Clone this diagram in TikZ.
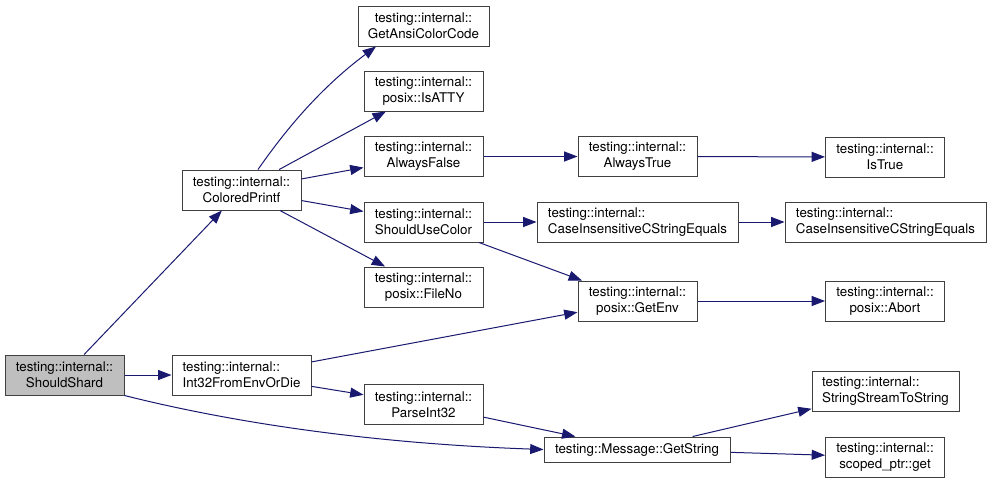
\documentclass[tikz,border=0pt]{standalone}
\usepackage{fontspec}
\setmainfont{TeX Gyre Heros}
\usepackage{xcolor}
\usetikzlibrary{arrows.meta,calc}
\definecolor{callblue}{HTML}{191970}
\definecolor{framegray}{HTML}{404040}
\newdimen\px \px=0.75pt

\begin{document}
\begin{tikzpicture}[x=0.75pt,y=-0.75pt,font=\fontsize{10}{12}\selectfont,
  >={Triangle[length=10pt,width=7.5pt]},
  fn/.style={draw=framegray,line width=0.75pt,inner sep=0pt,minimum width=119\px,minimum height=40\px,align=center},
  fnl/.style={fn,align=left},
  call/.style={->,draw=callblue,fill=none,line width=0.75pt}]
  \useasboundingbox (0,0) rectangle (991,483);
  % column 1 and 2
  \node[fn,fill=black!25] (ss) at (64.5,375) {testing::internal::\\ShouldShard};
  \node[fn] (cp) at (241.5,190) {testing::internal::\\ColoredPrintf};
  \node[fnl,minimum width=139\px] (i32) at (241.5,375) {testing::internal::\\Int32FromEnvOrDie};
  % column 3
  \node[fn,minimum width=131\px] (gacc) at (423.5,26) {testing::internal::\\GetAnsiColorCode};
  \node[fn] (atty) at (423.5,91) {testing::internal::\\posix::IsATTY};
  \node[fn] (afalse) at (423.5,156.5) {testing::internal::\\AlwaysFalse};
  \node[fn] (suc) at (423.5,222) {testing::internal::\\ShouldUseColor};
  \node[fn] (fileno) at (423.5,287) {testing::internal::\\posix::FileNo};
  \node[fn] (parse) at (423.5,404.5) {testing::internal::\\ParseInt32};
  % column 4
  \node[fn] (atrue) at (637.5,156.5) {testing::internal::\\AlwaysTrue};
  \node[fnl,minimum width=201\px] (cisa) at (637.5,222) {testing::internal::\\CaseInsensitiveCStringEquals};
  \node[fn] (getenv) at (637.5,301) {testing::internal::\\posix::GetEnv};
  \node[fn,minimum width=186\px,minimum height=25\px] (getstr) at (637,449.5) {testing::Message::GetString};
  % column 5
  \node[fn] (istrue) at (885,157) {testing::internal::\\IsTrue};
  \node[fnl,minimum width=201\px] (cisb) at (885.5,222) {testing::internal::\\CaseInsensitiveCStringEquals};
  \node[fn] (abort) at (885,301) {testing::internal::\\posix::Abort};
  \node[fnl,minimum width=147\px] (sstr) at (885.5,391.5) {testing::internal::\\StringStreamToString};
  \node[fn] (sptr) at (885,457) {testing::internal::\\scoped\_ptr::get};

  % calls
  \foreach \a/\b in {ss/cp,ss/i32,cp/atty,cp/afalse,cp/suc,cp/fileno,afalse/atrue,atrue/istrue,
      suc/cisa,cisa/cisb,suc/getenv,i32/getenv,i32/parse,parse/getstr,getenv/abort,getstr/sstr,getstr/sptr}
    \draw[call] (\a) -- (\b);
  \draw[call] ($(cp.north)+(16.5,0)$) .. controls (280,138) and (315,92) .. ($(gacc.south)+(-47.5,0)$);
  \draw[call] (ss.south east) .. controls (190,412) and (330,442) .. (getstr.west);
\end{tikzpicture}
\end{document}
